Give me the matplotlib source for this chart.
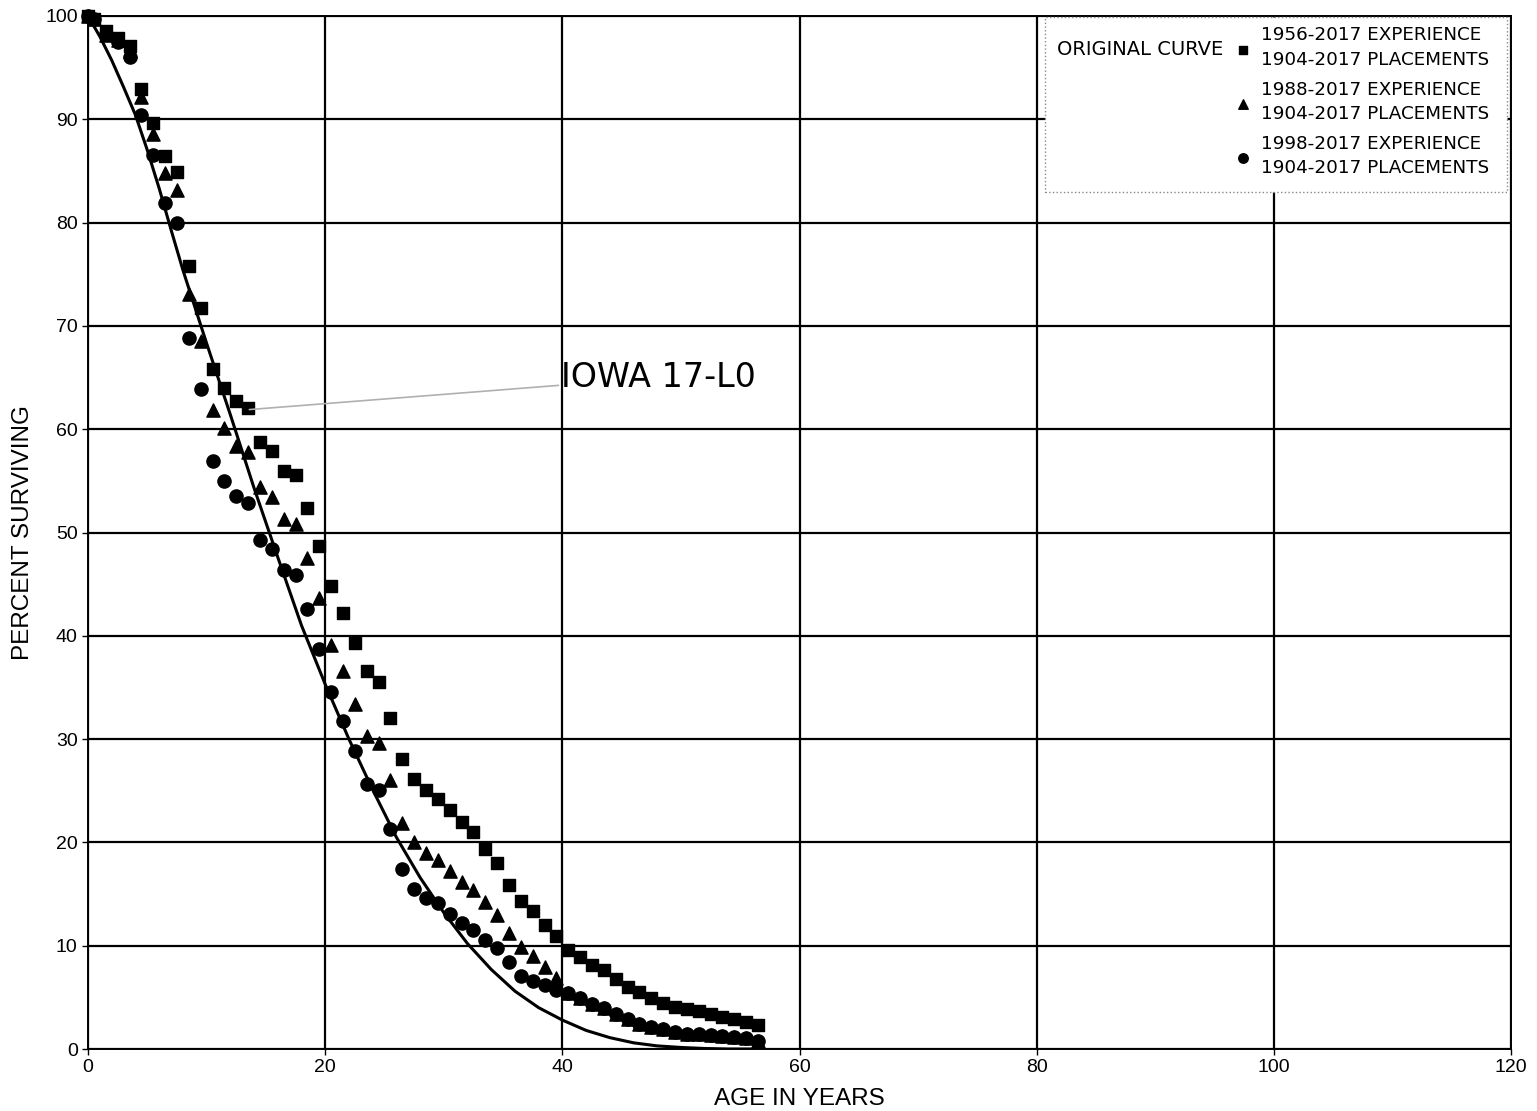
import matplotlib
matplotlib.use('Agg')
import matplotlib.pyplot as plt
from matplotlib.patches import Rectangle

# ages of the observed points (years)
ages = [0, 0.5, 1.5, 2.5, 3.5, 4.5, 5.5, 6.5, 7.5, 8.5, 9.5,
        10.5, 11.5, 12.5, 13.5, 14.5, 15.5, 16.5, 17.5, 18.5, 19.5,
        20.5, 21.5, 22.5, 23.5, 24.5, 25.5, 26.5, 27.5, 28.5, 29.5,
        30.5, 31.5, 32.5, 33.5, 34.5, 35.5, 36.5, 37.5, 38.5, 39.5,
        40.5, 41.5, 42.5, 43.5, 44.5, 45.5, 46.5, 47.5, 48.5, 49.5,
        50.5, 51.5, 52.5, 53.5, 54.5, 55.5, 56.5]

# 1956-2017 experience
exp_1956 = [100, 99.7, 98.5, 97.9, 97.1, 92.9, 89.6, 86.4, 84.9, 75.8, 71.7,
            65.8, 64.0, 62.7, 62.1, 58.8, 57.9, 56.0, 55.6, 52.4, 48.7,
            44.8, 42.2, 39.3, 36.6, 35.5, 32.0, 28.1, 26.1, 25.1, 24.2,
            23.1, 22.0, 21.0, 19.4, 18.0, 15.9, 14.3, 13.4, 12.0, 10.9,
            9.6, 8.9, 8.1, 7.6, 6.8, 6.0, 5.5, 4.9, 4.5, 4.1,
            3.9, 3.7, 3.4, 3.1, 2.9, 2.6, 2.3]

# 1988-2017 experience
exp_1988 = [100, 99.7, 98.2, 97.7, 96.6, 92.2, 88.6, 84.8, 83.2, 73.1, 68.5,
            61.9, 60.1, 58.4, 57.8, 54.4, 53.4, 51.3, 50.8, 47.5, 43.7,
            39.1, 36.6, 33.4, 30.3, 29.6, 26.0, 21.9, 20.0, 19.0, 18.3,
            17.2, 16.2, 15.4, 14.2, 13.0, 11.2, 9.9, 9.0, 7.9, 6.9,
            5.4, 4.9, 4.4, 4.0, 3.4, 2.9, 2.4, 2.1, 1.9, 1.6,
            1.5, 1.5, 1.4, 1.3, 1.2, 1.1, 0.8]

# 1998-2017 experience
exp_1998 = [100, 99.7, 98.3, 97.5, 96.0, 90.4, 86.5, 81.9, 80.0, 68.8, 63.9,
            56.9, 55.0, 53.5, 52.9, 49.3, 48.4, 46.4, 45.9, 42.6, 38.7,
            34.6, 31.8, 28.8, 25.7, 25.1, 21.3, 17.4, 15.5, 14.6, 14.1,
            13.1, 12.2, 11.5, 10.6, 9.8, 8.4, 7.1, 6.6, 6.2, 5.7,
            5.4, 4.9, 4.4, 4.0, 3.4, 2.9, 2.4, 2.1, 1.9, 1.6,
            1.5, 1.5, 1.4, 1.3, 1.2, 1.1, 0.8]

# original curve, Iowa 17-L0
curve_ages = [0, 1, 2, 3, 4, 5, 6, 7, 8, 10, 12, 14, 16, 18, 20, 22, 24, 26, 28,
              30, 32, 34, 36, 38, 40, 42, 44, 46, 48, 50, 52, 54, 56.5]
curve_vals = [100, 98.0, 95.7, 93.1, 90.4, 87.0, 83.3, 79.3, 75.4, 68.3, 61.4,
              54.3, 47.6, 41.0, 35.3, 30.0, 25.1, 20.5, 16.6, 13.2, 10.2, 7.7,
              5.6, 4.0, 2.8, 1.8, 1.1, 0.6, 0.3, 0.15, 0.05, 0.0, 0.0]

labels = ['1956-2017 EXPERIENCE\n1904-2017 PLACEMENTS',
          '1988-2017 EXPERIENCE\n1904-2017 PLACEMENTS',
          '1998-2017 EXPERIENCE\n1904-2017 PLACEMENTS']

plt.rcParams['font.family'] = ['Liberation Sans', 'DejaVu Sans']

fig = plt.figure(figsize=(15.37, 11.11), dpi=100)
ax = fig.add_axes([0.0573, 0.0558, 0.9258, 0.9298])

ax.plot(curve_ages, curve_vals, color='black', lw=2.2, zorder=3)
h1 = ax.scatter(ages, exp_1956, marker='s', s=80, color='black', zorder=4, clip_on=False)
h2 = ax.scatter(ages, exp_1988, marker='^', s=90, color='black', zorder=4, clip_on=False)
h3 = ax.scatter(ages, exp_1998, marker='o', s=90, color='black', zorder=4, clip_on=False)

ax.set_xlim(0, 120)
ax.set_ylim(0, 100)
ax.set_xticks(range(0, 121, 20))
ax.set_yticks(range(0, 101, 10))
ax.grid(True, color='black', lw=1.6)
ax.set_axisbelow(True)
for sp in ax.spines.values():
    sp.set_linewidth(1.4)
ax.tick_params(labelsize=14, length=4, width=1)

ax.set_xlabel('AGE IN YEARS', fontsize=17.5, labelpad=8)
ax.set_ylabel('PERCENT SURVIVING', fontsize=17.5, labelpad=8)

ax.annotate('IOWA 17-L0', xy=(13.6, 61.9), xytext=(39.9, 65.0),
            fontsize=24, family='DejaVu Sans', va='center', ha='left',
            arrowprops=dict(arrowstyle='-', color='#b0b0b0', lw=1.2,
                            shrinkA=0, shrinkB=0), zorder=5)

# legend box
ax.add_patch(Rectangle((0.6725, 0.8296), 0.3247, 0.1694, transform=ax.transAxes,
                       facecolor='white', edgecolor='#888888', lw=1, ls=':',
                       zorder=6, clip_on=False))
ax.text(0.6811, 0.968, 'ORIGINAL CURVE', transform=ax.transAxes, fontsize=14,
        family='DejaVu Sans', va='center', ha='left', zorder=7)
leg = ax.legend([h1, h2, h3], labels, loc='upper left', bbox_to_anchor=(0.805, 0.99),
                frameon=False, handlelength=1.0, handletextpad=0.5, borderpad=0,
                borderaxespad=0, labelspacing=0.65, markerscale=0.72,
                prop={'family': 'DejaVu Sans', 'size': 13.2})
for t in leg.get_texts():
    t.set_linespacing(1.45)
leg.set_zorder(8)

fig.savefig('out.png', dpi=100)
